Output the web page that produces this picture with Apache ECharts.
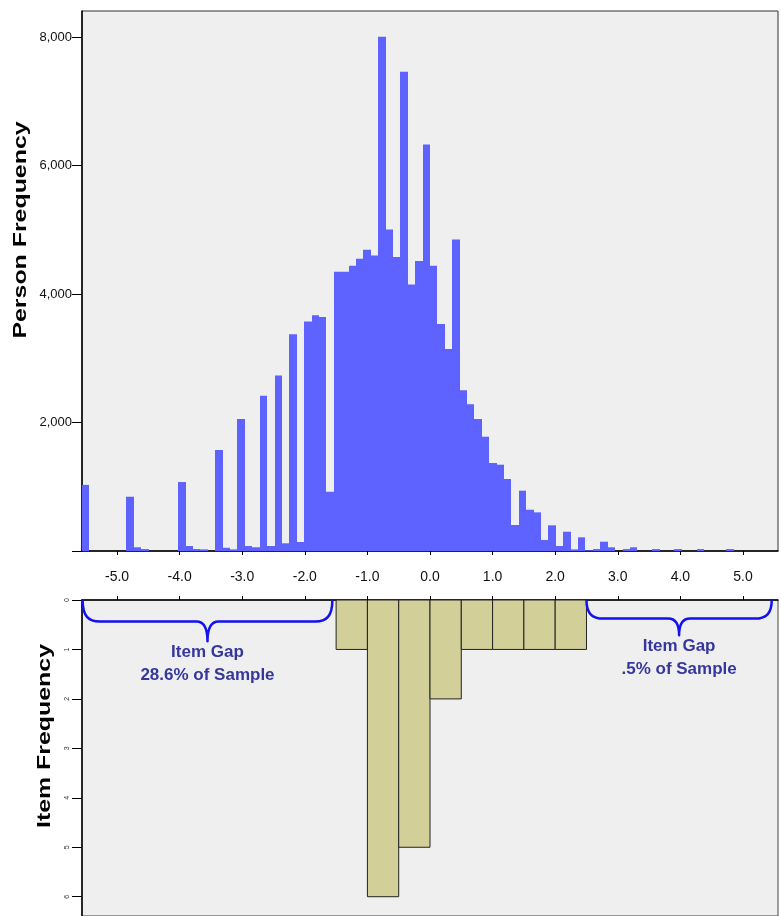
<!DOCTYPE html>
<html>
<head>
<meta charset="utf-8">
<title>Person and Item Frequency</title>
<script src="https://cdn.jsdelivr.net/npm/echarts@6/dist/echarts.min.js"></script>
<style>
  html, body { margin: 0; padding: 0; background: #ffffff; }
  #chart { width: 781px; height: 916px; }
</style>
</head>
<body>
<div id="chart"></div>
<script>
// Person measures: equal-width bins spanning the logit scale
const personMin = -5.56;
const personMax = 5.56;
const personBinCount = 94;
const personCounts = [
  1030, 0, 0, 0, 0, 0, 845, 58, 30, 0,
  0, 0, 0, 1074, 78, 30, 25, 0, 1573, 50,
  25, 2055, 78, 58, 2418, 78, 2735, 120, 3374, 140,
  3576, 3670, 3643, 923, 4350, 4350, 4442, 4551, 4691, 4604,
  8010, 5009, 4578, 7463, 4152, 4515, 6332, 4442, 3534, 3145,
  4853, 2502, 2284, 2055, 1780, 1370, 1344, 1121, 405, 939,
  643, 602, 171, 400, 78, 300, 25, 213, 10, 30,
  145, 58, 0, 30, 58, 0, 0, 30, 0, 0,
  30, 0, 0, 30, 0, 0, 0, 30, 0, 0,
  0, 0, 0, 0
];

// Item difficulties: half-logit bins
const itemBinStart = [-1.5, -1.0, -0.5, 0.0, 0.5, 1.0, 1.5, 2.0];
const itemBinWidth = 0.5;
const itemCounts = [1, 6, 5, 2, 1, 1, 1, 1];

// Ranges of the scale not covered by any item
const gapStart = [-5.55, 2.5];
const gapEnd = [-1.56, 5.46];
const gapShare = ['28.6%', '.5%'];

// Tick values
const xTicks = [-5, -4, -3, -2, -1, 0, 1, 2, 3, 4, 5];
const personTicks = [0, 2000, 4000, 6000, 8000];
const personTickLabels = [2000, 4000, 6000, 8000];
const itemTicks = [0, 1, 2, 3, 4, 5, 6];

const FONT = '"Liberation Sans", Arial, Helvetica, sans-serif';

const binWidth = (personMax - personMin) / personBinCount;
const personData = personCounts.map((c, i) => [personMin + i * binWidth, personMin + (i + 1) * binWidth, c]);
const itemData = itemCounts.map((c, i) => [itemBinStart[i], itemBinStart[i] + itemBinWidth, c]);
const gapData = gapStart.map((s, i) => [s, gapEnd[i], i]);

// One histogram bar; left/right edges snapped to whole pixels so
// neighbouring bars join without seams
function histRect(params, api, fill, stroke) {
  const x0 = api.value(0), x1 = api.value(1), c = api.value(2);
  if (!c) return null;
  const a = api.coord([x0, 0]);
  const b = api.coord([x1, c]);
  const left = stroke ? a[0] : Math.round(a[0]);
  const right = stroke ? b[0] : Math.round(b[0]);
  return {
    type: 'rect',
    shape: {
      x: left,
      y: Math.min(a[1], b[1]),
      width: right - left,
      height: Math.abs(b[1] - a[1])
    },
    style: stroke ? { fill: fill, stroke: stroke, lineWidth: 1 } : { fill: fill }
  };
}

// Curly brace under the item axis, with its caption below the tip
const braceDepth = [21.6, 18.6];
function renderBrace(params, api) {
  const s = api.value(0), e = api.value(1), idx = api.value(2);
  const p0 = api.coord([s, 0]);
  const p1 = api.coord([e, 0]);
  const x0 = p0[0], x1 = p1[0], y0 = p0[1];
  const h = braceDepth[idx];
  const yh = y0 + h;
  const tip = y0 + 2 * h - 2;
  const xm = (x0 + x1) / 2;
  const r = 17;
  const m = 11;
  const path = [
    'M', x0, y0,
    'C', x0, y0 + h * 0.75, x0 + r * 0.35, yh, x0 + r, yh,
    'L', xm - m, yh,
    'Q', xm, yh, xm, tip,
    'Q', xm, yh, xm + m, yh,
    'L', x1 - r, yh,
    'C', x1 - r * 0.35, yh, x1, y0 + h * 0.75, x1, y0
  ].join(' ');
  return {
    type: 'group',
    children: [
      {
        type: 'path',
        shape: { pathData: path },
        style: { fill: null, stroke: '#1212ee', lineWidth: 2.5, lineJoin: 'round' }
      },
      {
        type: 'text',
        style: {
          text: 'Item Gap\n' + gapShare[idx] + ' of Sample',
          x: xm,
          y: tip,
          align: 'center',
          verticalAlign: 'top',
          font: 'bold 17px ' + FONT,
          lineHeight: 22.5,
          fill: '#35379d'
        }
      }
    ]
  };
}

const chart = echarts.init(document.getElementById('chart'), null, { renderer: 'canvas' });

chart.setOption({
  animation: false,
  backgroundColor: '#ffffff',
  grid: [
    { left: 82, right: 3, top: 11, height: 540, show: true, backgroundColor: '#efefef', borderColor: '#333', borderWidth: 1 },
    { left: 82, right: 3, top: 600, height: 320, show: true, backgroundColor: '#efefef', borderColor: '#444', borderWidth: 1 }
  ],
  xAxis: [
    {
      type: 'value', gridIndex: 0, position: 'bottom',
      min: personMin, max: personMax,
      axisLine: { show: true, onZero: false, lineStyle: { color: '#000', width: 1.5 } },
      axisTick: { show: true, length: 4, customValues: xTicks, lineStyle: { color: '#000' } },
      axisLabel: {
        show: true, customValues: xTicks, margin: 19,
        fontSize: 14, fontFamily: FONT, color: '#111',
        formatter: v => v.toFixed(1)
      },
      splitLine: { show: false }
    },
    {
      type: 'value', gridIndex: 1, position: 'top',
      min: personMin, max: personMax,
      axisLine: { show: true, onZero: false, lineStyle: { color: '#000', width: 1.5 } },
      axisTick: { show: true, length: 4, customValues: xTicks, lineStyle: { color: '#000' } },
      axisLabel: { show: false },
      splitLine: { show: false }
    }
  ],
  yAxis: [
    {
      type: 'value', gridIndex: 0, position: 'left',
      min: 0, max: 8410,
      axisLine: { show: true, onZero: false, lineStyle: { color: '#000', width: 1.5 } },
      axisTick: { show: true, length: 10, customValues: personTicks, lineStyle: { color: '#000' } },
      axisLabel: {
        show: true, customValues: personTickLabels, margin: 10,
        fontSize: 13, fontFamily: FONT, color: '#111',
        formatter: v => v.toLocaleString('en-US')
      },
      splitLine: { show: false }
    },
    {
      type: 'value', gridIndex: 1, position: 'left', inverse: true,
      min: 0, max: 6.39,
      axisLine: { show: true, onZero: false, lineStyle: { color: '#000', width: 1.5 } },
      axisTick: { show: true, length: 10, customValues: itemTicks, lineStyle: { color: '#000' } },
      axisLabel: {
        show: true, customValues: itemTicks, margin: 11, rotate: 90,
        fontSize: 7, fontFamily: FONT, color: '#333'
      },
      splitLine: { show: false }
    }
  ],
  series: [
    {
      name: 'Persons',
      type: 'custom',
      xAxisIndex: 0, yAxisIndex: 0,
      clip: true, silent: true,
      encode: { x: [0, 1], y: 2 },
      renderItem: (p, api) => histRect(p, api, '#5e62fe', null),
      data: personData
    },
    {
      name: 'Items',
      type: 'custom',
      xAxisIndex: 1, yAxisIndex: 1,
      clip: true, silent: true,
      encode: { x: [0, 1], y: 2 },
      renderItem: (p, api) => histRect(p, api, '#d3cf99', '#222'),
      data: itemData
    },
    {
      name: 'Gaps',
      type: 'custom',
      xAxisIndex: 1, yAxisIndex: 1,
      clip: false, silent: true,
      renderItem: renderBrace,
      data: gapData,
      z: 5
    }
  ],
  graphic: [
    {
      type: 'text', x: 20.5, y: 230, rotation: Math.PI / 2, scaleX: 1.31,
      style: {
        text: 'Person Frequency', font: 'bold 19px ' + FONT, fill: '#000',
        align: 'center', verticalAlign: 'middle'
      }
    },
    {
      type: 'text', x: 45, y: 736, rotation: Math.PI / 2, scaleX: 1.31,
      style: {
        text: 'Item Frequency', font: 'bold 19px ' + FONT, fill: '#000',
        align: 'center', verticalAlign: 'middle'
      }
    }
  ]
});
</script>
</body>
</html>
